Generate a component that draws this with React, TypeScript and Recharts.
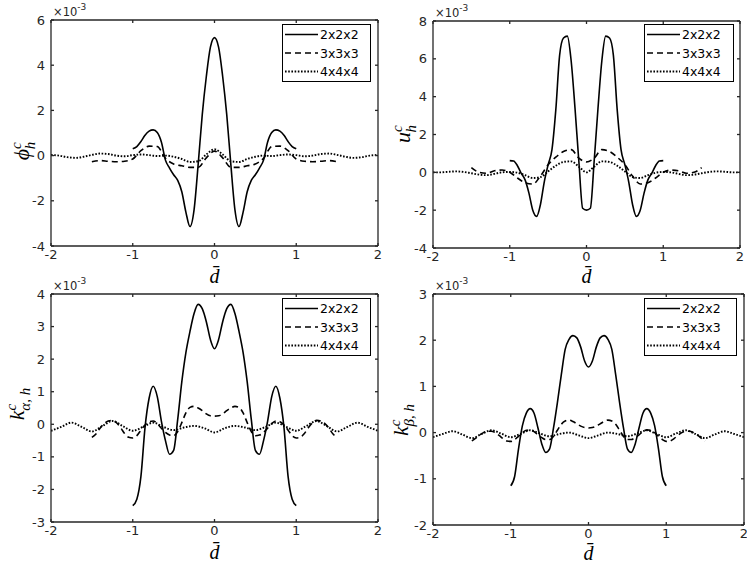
import React from 'react';
import { LineChart, Line, XAxis, YAxis } from 'recharts';

// ---------- data (values in units of 1e-3) ----------
const X_TICKS = [-2, -1, 0, 1, 2];

const X_SOLID = [-1, -0.95, -0.9, -0.85, -0.8, -0.75, -0.7, -0.65, -0.6, -0.55, -0.5, -0.45, -0.4, -0.35, -0.3, -0.25, -0.2, -0.15, -0.1, -0.05, 0,
  0.05, 0.1, 0.15, 0.2, 0.25, 0.3, 0.35, 0.4, 0.45, 0.5, 0.55, 0.6, 0.65, 0.7, 0.75, 0.8, 0.85, 0.9, 0.95, 1];
const X_DASH_COARSE = [-1.5, -1.4, -1.3, -1.2, -1.1, -1.0, -0.9, -0.8, -0.7, -0.6, -0.5, -0.4, -0.3, -0.2, -0.1, 0,
  0.1, 0.2, 0.3, 0.4, 0.5, 0.6, 0.7, 0.8, 0.9, 1.0, 1.1, 1.2, 1.3, 1.4, 1.5];
const X_DASH_FINE = [-1.5, -1.45, -1.4, -1.35, -1.3, -1.25, -1.2, -1.15, -1.1, -1.05, -1.0, -0.95, -0.9, -0.85, -0.8, -0.75, -0.7, -0.65, -0.6, -0.55, -0.5, -0.45, -0.4, -0.35, -0.3, -0.25, -0.2, -0.15, -0.1, -0.05, 0,
  0.05, 0.1, 0.15, 0.2, 0.25, 0.3, 0.35, 0.4, 0.45, 0.5, 0.55, 0.6, 0.65, 0.7, 0.75, 0.8, 0.85, 0.9, 0.95, 1.0, 1.05, 1.1, 1.15, 1.2, 1.25, 1.3, 1.35, 1.4, 1.45, 1.5];
const X_DOT_COARSE = [-2, -1.9, -1.8, -1.7, -1.6, -1.5, -1.4, -1.3, -1.2, -1.1, -1.0, -0.9, -0.8, -0.7, -0.6, -0.5, -0.4, -0.3, -0.2, -0.1, 0,
  0.1, 0.2, 0.3, 0.4, 0.5, 0.6, 0.7, 0.8, 0.9, 1.0, 1.1, 1.2, 1.3, 1.4, 1.5, 1.6, 1.7, 1.8, 1.9, 2];
const X_DOT_FINE = [-2, -1.875, -1.75, -1.625, -1.5, -1.375, -1.25, -1.125, -1, -0.875, -0.75, -0.625, -0.5, -0.375, -0.25, -0.125, 0,
  0.125, 0.25, 0.375, 0.5, 0.625, 0.75, 0.875, 1, 1.125, 1.25, 1.375, 1.5, 1.625, 1.75, 1.875, 2];

// phi_h^c
const PHI_2 = [0.30, 0.40, 0.62, 0.90, 1.08, 1.14, 1.02, 0.60, -0.20, -0.55, -0.85, -1.10, -1.60, -2.50, -3.14, -2.40, -0.40, 1.80, 3.50, 4.80, 5.22,
  4.80, 3.50, 1.80, -0.40, -2.40, -3.14, -2.50, -1.60, -1.10, -0.85, -0.55, -0.20, 0.60, 1.02, 1.14, 1.08, 0.90, 0.62, 0.40, 0.30];
const PHI_3 = [-0.27, -0.22, -0.25, -0.27, -0.25, -0.15, 0.22, 0.42, 0.40, -0.12, -0.37, -0.45, -0.52, -0.52, -0.10, 0.20,
  -0.10, -0.52, -0.52, -0.45, -0.37, -0.12, 0.40, 0.42, 0.22, -0.15, -0.25, -0.27, -0.25, -0.22, -0.27];
const PHI_4 = [0.03, 0.0, -0.07, -0.10, -0.05, 0.03, 0.09, 0.07, 0.0, -0.03, 0.02, 0.05, 0.02, -0.02, 0.0, -0.05, -0.15, -0.28, -0.25, 0.05, 0.28,
  0.05, -0.25, -0.28, -0.15, -0.05, 0.0, -0.02, 0.02, 0.05, 0.02, -0.03, 0.0, 0.07, 0.09, 0.03, -0.05, -0.10, -0.07, 0.0, 0.03];

// u_h^c
const U_2 = [0.62, 0.60, 0.35, -0.05, -0.40, -1.10, -2.00, -2.33, -1.70, -0.50, 0.40, 1.20, 3.30, 6.20, 7.10, 7.20, 5.90, 3.40, 0.60, -1.90, -2.00,
  -1.90, 0.60, 3.40, 5.90, 7.20, 7.10, 6.20, 3.30, 1.20, 0.40, -0.50, -1.70, -2.33, -2.00, -1.10, -0.40, -0.05, 0.35, 0.60, 0.62];
const U_3 = [0.25, 0.0, -0.05, 0.08, 0.12, 0.0, -0.30, -0.55, -0.62, -0.20, 0.40, 0.80, 1.10, 1.20, 0.75, 0.55,
  0.75, 1.20, 1.10, 0.80, 0.40, -0.20, -0.62, -0.55, -0.30, 0.0, 0.12, 0.08, -0.05, 0.0, 0.25];
const U_4 = [0.0, 0.0, 0.03, 0.05, 0.02, -0.05, -0.12, -0.15, -0.08, 0.0, 0.02, -0.02, -0.15, -0.30, -0.25, 0.05, 0.35, 0.55, 0.58, 0.30, 0.0,
  0.30, 0.58, 0.55, 0.35, 0.05, -0.25, -0.30, -0.15, -0.02, 0.02, 0.0, -0.08, -0.15, -0.12, -0.05, 0.02, 0.05, 0.03, 0.0, 0.0];

// k_alpha,h^c
const KA_2 = [-2.50, -2.30, -1.60, -0.10, 0.80, 1.17, 0.85, 0.10, -0.50, -0.92, -0.80, 0.15, 1.30, 2.20, 2.85, 3.40, 3.68, 3.55, 3.15, 2.60, 2.32,
  2.60, 3.15, 3.55, 3.68, 3.40, 2.85, 2.20, 1.30, 0.15, -0.80, -0.92, -0.50, 0.10, 0.85, 1.17, 0.80, -0.10, -1.60, -2.30, -2.50];
const KA_3 = [-0.40, -0.30, -0.12, 0.02, 0.10, 0.12, 0.05, -0.10, -0.28, -0.40, -0.42, -0.35, -0.18, -0.02, 0.08, 0.10, 0.02, -0.12, -0.25, -0.33, -0.35, -0.22, 0.05, 0.35, 0.52, 0.55, 0.50, 0.42, 0.32, 0.26, 0.25,
  0.26, 0.32, 0.42, 0.50, 0.55, 0.52, 0.35, 0.05, -0.22, -0.35, -0.33, -0.25, -0.12, 0.02, 0.10, 0.08, -0.02, -0.18, -0.35, -0.42, -0.40, -0.28, -0.10, 0.05, 0.12, 0.10, 0.02, -0.12, -0.30, -0.40];
const KA_4 = [-0.20, -0.08, 0.05, -0.08, -0.22, -0.06, 0.10, -0.05, -0.20, -0.08, 0.05, -0.08, -0.18, -0.10, -0.05, -0.12, -0.25,
  -0.12, -0.05, -0.10, -0.18, -0.08, 0.05, -0.08, -0.20, -0.05, 0.10, -0.06, -0.22, -0.08, 0.05, -0.08, -0.20];

// k_beta,h^c
const KB_2 = [-1.15, -0.95, -0.35, 0.15, 0.42, 0.52, 0.42, 0.10, -0.25, -0.43, -0.35, 0.10, 0.65, 1.25, 1.80, 2.02, 2.10, 2.05, 1.85, 1.55, 1.42,
  1.55, 1.85, 2.05, 2.10, 2.02, 1.80, 1.25, 0.65, 0.10, -0.35, -0.43, -0.25, 0.10, 0.42, 0.52, 0.42, 0.15, -0.35, -0.95, -1.15];
const KB_3 = [-0.18, -0.12, -0.05, 0.0, 0.03, 0.03, 0.0, -0.06, -0.13, -0.18, -0.19, -0.15, -0.08, 0.0, 0.05, 0.06, 0.02, -0.05, -0.11, -0.15, -0.15, -0.08, 0.05, 0.18, 0.25, 0.27, 0.24, 0.19, 0.14, 0.11, 0.10,
  0.11, 0.14, 0.19, 0.24, 0.27, 0.25, 0.18, 0.05, -0.08, -0.15, -0.15, -0.11, -0.05, 0.02, 0.06, 0.05, 0.0, -0.08, -0.15, -0.19, -0.18, -0.13, -0.06, 0.0, 0.03, 0.03, 0.0, -0.05, -0.12, -0.18];
const KB_4 = [-0.10, -0.03, 0.03, -0.04, -0.12, -0.03, 0.05, -0.02, -0.10, -0.03, 0.05, -0.02, -0.08, -0.03, 0.0, -0.06, -0.12,
  -0.06, 0.0, -0.03, -0.08, -0.02, 0.05, -0.03, -0.10, -0.02, 0.05, -0.03, -0.12, -0.04, 0.03, -0.03, -0.10];

const LEGEND_LABELS = ['2x2x2', '3x3x3', '4x4x4'];

// ---------- styling ----------
const AXIS_COLOR = '#262626';
const TICK_FONT = 'DejaVu Sans, sans-serif';
const MATH_FONT = 'Liberation Serif, serif';
const DASHES = [undefined, '6 4', '1.6 1.6'];
const WIDTHS = [1.6, 1.6, 1.9];

const toPts = (xs: number[], ys: number[]) => xs.map((x, i) => ({ x, y: ys[i] }));

type Box = { l: number; t: number; r: number; b: number };

function Panel({ box, yDomain, yTicks, series }: { box: Box; yDomain: [number, number]; yTicks: number[]; series: { x: number; y: number }[][] }) {
  const padL = 50, padT = 15, padR = 10, padB = 40;
  const w = box.r - box.l, h = box.b - box.t;
  const tickStyle = { fill: AXIS_COLOR, fontSize: 13, fontFamily: TICK_FONT };
  return (
    <div style={{ position: 'absolute', left: box.l - padL, top: box.t - padT }}>
      <LineChart width={w + padL + padR} height={h + padT + padB} margin={{ top: padT - 1, right: padR - 1, bottom: 0, left: 0 }}>
        <XAxis xAxisId="b" dataKey="x" type="number" domain={[-2, 2]} ticks={X_TICKS} allowDataOverflow
          orientation="bottom" height={padB} tickSize={-3} tickMargin={7}
          stroke={AXIS_COLOR} strokeWidth={1.3} tick={tickStyle} interval={0} />
        <XAxis xAxisId="t" dataKey="x" type="number" domain={[-2, 2]} ticks={X_TICKS} allowDataOverflow
          orientation="top" height={1} tickSize={-3} stroke={AXIS_COLOR} strokeWidth={1.3}
          tick={() => <g />} interval={0} />
        <YAxis yAxisId="l" type="number" domain={yDomain} ticks={yTicks} allowDataOverflow
          orientation="left" width={padL} tickSize={-3} tickMargin={9}
          stroke={AXIS_COLOR} strokeWidth={1.3} tick={tickStyle} interval={0} />
        <YAxis yAxisId="r" type="number" domain={yDomain} ticks={yTicks} allowDataOverflow
          orientation="right" width={1} tickSize={-3} stroke={AXIS_COLOR} strokeWidth={1.3}
          tick={() => <g />} interval={0} />
        {series.map((d, i) => (
          <Line key={i} data={d} dataKey="y" xAxisId="b" yAxisId="l" type="monotone"
            stroke="#000" strokeWidth={WIDTHS[i]} strokeDasharray={DASHES[i]}
            dot={false} activeDot={false} isAnimationActive={false} />
        ))}
      </LineChart>
    </div>
  );
}

function LegendBox({ x, y, w, h }: { x: number; y: number; w: number; h: number }) {
  return (
    <div style={{ position: 'absolute', left: x, top: y, width: w, height: h, border: '1.5px solid #000', background: '#fff', boxSizing: 'border-box' }}>
      <svg width={w - 3} height={h - 3} style={{ display: 'block' }}>
        {LEGEND_LABELS.map((lab, i) => {
          const cy = 9.5 + i * 18.5;
          return (
            <g key={lab}>
              <line x1={2} x2={35} y1={cy} y2={cy} stroke="#000" strokeWidth={WIDTHS[i]} strokeDasharray={DASHES[i]} />
              <text x={37} y={cy} dominantBaseline="central" fontFamily={TICK_FONT} fontSize={12.5} fill="#000">{lab}</text>
            </g>
          );
        })}
      </svg>
    </div>
  );
}

const BOX1: Box = { l: 51, t: 20, r: 378, b: 246 };
const BOX2: Box = { l: 433, t: 21, r: 740, b: 248 };
const BOX3: Box = { l: 51, t: 294, r: 378, b: 522 };
const BOX4: Box = { l: 433, t: 294, r: 744, b: 525 };

function Exponent({ x, y }: { x: number; y: number }) {
  return (
    <text x={x} y={y} fontFamily={TICK_FONT} fontSize={11.5} fill={AXIS_COLOR}>
      ×10<tspan dy={-6} fontSize={9}>-3</tspan>
    </text>
  );
}

function XLabel({ box, dy }: { box: Box; dy: number }) {
  return (
    <text x={(box.l + box.r) / 2} y={box.b + dy} textAnchor="middle" fontFamily={MATH_FONT} fontStyle="italic" fontSize={20} fill="#000">
      d̄
    </text>
  );
}

export default function App() {
  return (
    <div style={{ position: 'absolute', left: 0, top: 0, width: 747, height: 568, background: '#fff', overflow: 'hidden' }}>
      <Panel box={BOX1} yDomain={[-4, 6]} yTicks={[-4, -2, 0, 2, 4, 6]}
        series={[toPts(X_SOLID, PHI_2), toPts(X_DASH_COARSE, PHI_3), toPts(X_DOT_COARSE, PHI_4)]} />
      <Panel box={BOX2} yDomain={[-4, 8]} yTicks={[-4, -2, 0, 2, 4, 6, 8]}
        series={[toPts(X_SOLID, U_2), toPts(X_DASH_COARSE, U_3), toPts(X_DOT_COARSE, U_4)]} />
      <Panel box={BOX3} yDomain={[-3, 4]} yTicks={[-3, -2, -1, 0, 1, 2, 3, 4]}
        series={[toPts(X_SOLID, KA_2), toPts(X_DASH_FINE, KA_3), toPts(X_DOT_FINE, KA_4)]} />
      <Panel box={BOX4} yDomain={[-2, 3]} yTicks={[-2, -1, 0, 1, 2, 3]}
        series={[toPts(X_SOLID, KB_2), toPts(X_DASH_FINE, KB_3), toPts(X_DOT_FINE, KB_4)]} />

      <LegendBox x={282} y={24} w={89} h={58} />
      <LegendBox x={644} y={24} w={90} h={58} />
      <LegendBox x={282} y={298} w={89} h={58} />
      <LegendBox x={644} y={298} w={93} h={58} />

      <svg width={747} height={568} style={{ position: 'absolute', left: 0, top: 0, pointerEvents: 'none' }}>
        <Exponent x={53} y={16} />
        <Exponent x={435} y={17} />
        <Exponent x={53} y={290} />
        <Exponent x={435} y={290} />

        <XLabel box={BOX1} dy={37} />
        <XLabel box={BOX2} dy={35} />
        <XLabel box={BOX3} dy={37} />
        <XLabel box={BOX4} dy={35} />

        <text transform="translate(29,151) rotate(-90)" textAnchor="middle" fontFamily={MATH_FONT} fontStyle="italic" fontSize={22} fill="#000">
          ϕ<tspan dy={-8} fontSize={15}>c</tspan><tspan dx={-7} dy={14} fontSize={15}>h</tspan>
        </text>
        <text transform="translate(410,134) rotate(-90)" textAnchor="middle" fontFamily={MATH_FONT} fontStyle="italic" fontSize={22} fill="#000">
          u<tspan dy={-8} fontSize={15}>c</tspan><tspan dx={-7} dy={14} fontSize={15}>h</tspan>
        </text>
        <text transform="translate(24,404) rotate(-90)" textAnchor="middle" fontFamily={MATH_FONT} fontStyle="italic" fontSize={22} fill="#000">
          k<tspan dy={-8} fontSize={15}>c</tspan><tspan dx={-7} dy={14} fontSize={15}>α, h</tspan>
        </text>
        <text transform="translate(408,420) rotate(-90)" textAnchor="middle" fontFamily={MATH_FONT} fontStyle="italic" fontSize={22} fill="#000">
          k<tspan dy={-8} fontSize={15}>c</tspan><tspan dx={-7} dy={14} fontSize={15}>β, h</tspan>
        </text>
      </svg>
    </div>
  );
}
